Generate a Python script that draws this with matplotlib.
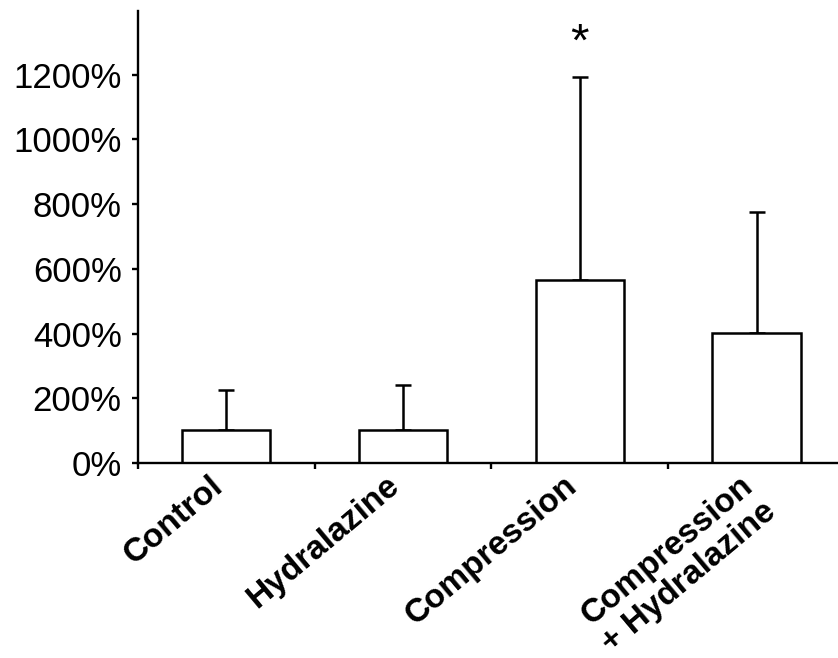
import matplotlib
matplotlib.use("Agg")
import matplotlib.pyplot as plt
from matplotlib.ticker import FixedLocator, FuncFormatter
from matplotlib.transforms import ScaledTranslation

categories = ["Control", "Hydralazine", "Compression", "Compression\n+ Hydralazine"]
means = [102, 102, 564, 402]
errors = [124, 140, 628, 375]
y_ticks = [0, 200, 400, 600, 800, 1000, 1200]
significance = ["", "", "*", ""]

plt.rcParams['font.family'] = ['Liberation Sans', 'DejaVu Sans']

fig = plt.figure(figsize=(8.38, 6.58), dpi=100)
ax = fig.add_axes([0.1643, 0.2964, 0.8357, 0.687])

x = list(range(len(categories)))
ax.bar(x, means, width=0.5, color='white', edgecolor='black', linewidth=1.8, zorder=2)
ax.errorbar(x, means, yerr=[[0] * len(errors), errors], fmt='none', ecolor='black',
            elinewidth=1.8, capsize=6, capthick=1.8, zorder=1)

for xi, m, e, s in zip(x, means, errors, significance):
    if s:
        ax.annotate(s, xy=(xi, m + e), xytext=(0, 24), textcoords='offset points',
                    ha='center', va='center', fontsize=34)

ax.set_xlim(-0.5, 3.46)
ax.set_ylim(0, 1397)

ax.spines['top'].set_visible(False)
ax.spines['right'].set_visible(False)
ax.spines['left'].set_linewidth(1.7)
ax.spines['bottom'].set_linewidth(1.7)

ax.yaxis.set_major_locator(FixedLocator(y_ticks))
ax.yaxis.set_major_formatter(FuncFormatter(lambda v, p: f"{int(v)}%"))
ax.tick_params(axis='y', direction='out', length=4.5, width=1.7, labelsize=25, pad=7)

ax.set_xticks(x)
ax.set_xticklabels(categories, fontsize=24, fontweight='bold', rotation=40,
                   ha='right', va='top', rotation_mode='anchor', linespacing=1.15)
ax.tick_params(axis='x', which='major', length=0, pad=5)
shift = ScaledTranslation(-0.17, 0.0, fig.dpi_scale_trans)
for lbl in ax.get_xticklabels():
    lbl.set_transform(lbl.get_transform() + shift)
ax.set_xticks([-0.5, 0.5, 1.5, 2.5], minor=True)
ax.tick_params(axis='x', which='minor', direction='out', length=4.5, width=1.7)

fig.savefig("out.png", dpi=100)
